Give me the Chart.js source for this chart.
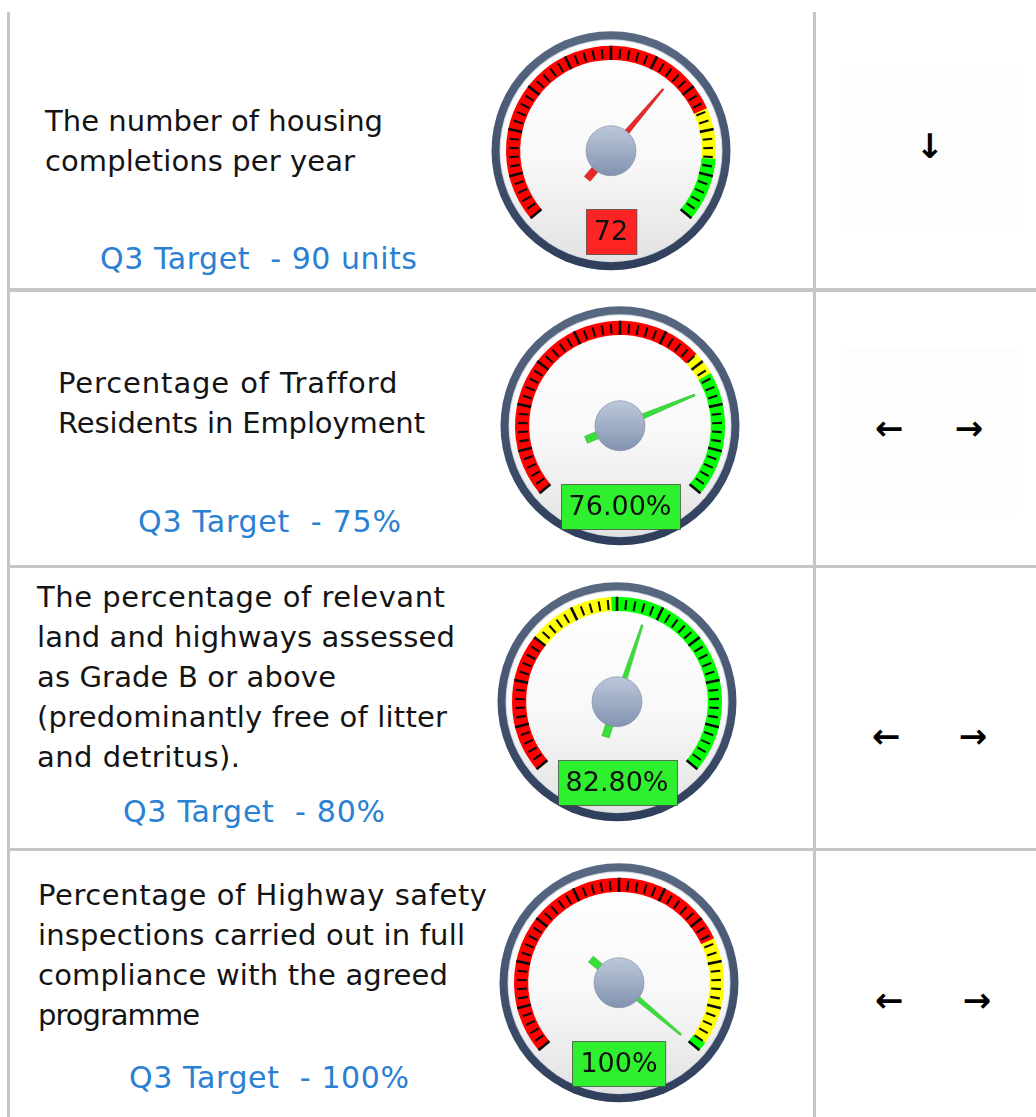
<!DOCTYPE html>
<html><head><meta charset="utf-8">
<script src="https://cdn.jsdelivr.net/npm/chart.js@4.4.0/dist/chart.umd.min.js"></script>
<style>
html,body{margin:0;padding:0;background:#fff;}
#page{position:relative;width:1036px;height:1117px;overflow:hidden;font-family:"DejaVu Sans",Verdana,sans-serif;}
.hl{position:absolute;background:#c6c6c6;}
.desc{position:absolute;font-size:29px;line-height:40px;color:#141414;white-space:pre;}
.desc span,.target span{display:inline-block;}
.target{position:absolute;font-size:30px;line-height:40px;color:#2a80d2;white-space:pre;}
.arrow{position:absolute;font-size:34px;line-height:34px;font-weight:bold;color:#000;transform:translate(-50%,-50%);}
.box{position:absolute;background:#fdfdfd;}
canvas{position:absolute;}
</style></head><body><div id="page"></div>
<script>
// ---------- data ----------
const descLines = [
  ['The number of housing','completions per year'],
  ['Percentage of Trafford','Residents in Employment'],
  ['The percentage of relevant','land and highways assessed','as Grade B or above','(predominantly free of litter','and detritus).'],
  ['Percentage of Highway safety','inspections carried out in full','compliance with the agreed','programme']
];
const targetTexts = ['Q3 Target  - 90 units','Q3 Target  - 75%','Q3 Target  - 80%','Q3 Target  - 100%'];
const gaugeValues = [72, 76, 82.8, 100];
const gaugeLabels = ['72', '76.00%', '82.80%', '100%'];
const scaleMin = [0, 0, 60, 0];
const scaleMax = [110, 100, 100, 100];
const redEnd = [83, 68, 72, 75];
const yellowEnd = [95, 73, 79.5, 98];
const statusColors = ['#ff2424', '#2ff02f', '#2ff02f', '#2ff02f'];
const needleColors = ['#e62a2a', '#3ade3a', '#3ade3a', '#3ade3a'];
const trendSymbols = [['↓'], ['←','→'], ['←','→'], ['←','→']];

// ---------- layout ----------
const page = document.getElementById('page');
function el(cls, css, txt){ const d=document.createElement('div'); d.className=cls; Object.assign(d.style, css); if(txt!==undefined) d.textContent=txt; page.appendChild(d); return d; }

// light boxes in trend cells
el('box',{left:'842px',top:'65px',width:'176px',height:'165px'});
el('box',{left:'842px',top:'348px',width:'176px',height:'165px'});

// grid lines
el('hl',{left:'7px',top:'12px',width:'3px',height:'1105px'});
el('hl',{left:'813px',top:'12px',width:'3px',height:'1105px'});
el('hl',{left:'7px',top:'288px',width:'1029px',height:'4px'});
el('hl',{left:'7px',top:'565px',width:'1029px',height:'3px'});
el('hl',{left:'7px',top:'848px',width:'1029px',height:'3px'});

// text placement (layout only): left, top, and the rendered width of each line in the original
const descPos = [[45,101],[58,363],[37,577],[38,875]];
const descLineWidths = [[338,310],[339,367],[408,418,299,410,203],[449,427,410,162]];
const targetPos = [[100,239],[138,502],[123,792],[129,1058]];
const targetWidths = [317,263,262,280];

function fitSpan(parent, text, w){
  const s = document.createElement('span'); s.textContent = text; parent.appendChild(s);
  const nat = s.getBoundingClientRect().width;
  const n = [...text].length;
  if (n > 1) s.style.letterSpacing = ((w - nat) / (n - 1)) + 'px';
  return s;
}
descLines.forEach((lines,i)=>{
  const d = el('desc',{left:descPos[i][0]+'px',top:descPos[i][1]+'px'});
  lines.forEach((ln,k)=>{ fitSpan(d, ln, descLineWidths[i][k]); if(k<lines.length-1) d.appendChild(document.createElement('br')); });
  const t = el('target',{left:targetPos[i][0]+'px',top:targetPos[i][1]+'px'});
  fitSpan(t, targetTexts[i], targetWidths[i]);
});

const arrowPos = [[[930,146]],[[889,428],[969,428]],[[886,736],[973,736]],[[889,1000],[977,1000]]];
trendSymbols.forEach((syms,i)=>{
  syms.forEach((s,j)=>{
    el('arrow',{left:arrowPos[i][j][0]+'px',top:arrowPos[i][j][1]+'px'}, s);
  });
});

// ---------- gauges ----------
const gaugeCenters = [[611,151],[620,426],[617,702],[619,983]];

const gaugePlugin = {
  id: 'gaugeDeco',
  beforeDatasetsDraw(chart) {
    const a = chart.getDatasetMeta(0).data[0];
    const x = a.x, y = a.y, ctx = chart.ctx;
    ctx.save();
    let g = ctx.createLinearGradient(0, y-120, 0, y+120);
    g.addColorStop(0, '#5a6982'); g.addColorStop(0.5,'#44546f'); g.addColorStop(1, '#2e3e5b');
    ctx.beginPath(); ctx.arc(x, y, 119.5, 0, Math.PI*2); ctx.fillStyle = g; ctx.fill();
    ctx.beginPath(); ctx.arc(x, y, 111.5, 0, Math.PI*2); ctx.fillStyle = '#cfd5df'; ctx.fill();
    g = ctx.createLinearGradient(0, y-111, 0, y+111);
    g.addColorStop(0, '#ffffff'); g.addColorStop(0.55, '#f8f8f8'); g.addColorStop(1, '#e2e2e2');
    ctx.beginPath(); ctx.arc(x, y, 110.5, 0, Math.PI*2); ctx.fillStyle = g; ctx.fill();
    ctx.restore();
  },
  afterDatasetsDraw(chart, args, opts) {
    const meta0 = chart.getDatasetMeta(0);
    const first = meta0.data[0], last = meta0.data[meta0.data.length-1];
    const x = first.x, y = first.y, ctx = chart.ctx;
    const a0 = first.startAngle, a1 = last.endAngle;
    const rin = first.innerRadius, rout = first.outerRadius;
    ctx.save();
    // ticks
    ctx.strokeStyle = '#0c0c0c';
    const N = 50;
    for (let i = 0; i <= N; i++) {
      const ang = a0 + (a1 - a0) * i / N;
      const major = i % 5 === 0;
      const r1 = major ? rin : rin + 1.5;
      const r2 = major ? rout : rout - 3;
      ctx.lineWidth = major ? 2.6 : 2.1;
      ctx.beginPath();
      ctx.moveTo(x + Math.cos(ang)*r1, y + Math.sin(ang)*r1);
      ctx.lineTo(x + Math.cos(ang)*r2, y + Math.sin(ang)*r2);
      ctx.stroke();
    }
    // needle
    const na = chart.getDatasetMeta(1).data[0].endAngle;
    ctx.save();
    ctx.translate(x, y); ctx.rotate(na);
    ctx.fillStyle = opts.needle;
    ctx.strokeStyle = 'rgba(0,0,0,0.12)';
    ctx.lineWidth = 0.8;
    ctx.beginPath();
    ctx.moveTo(-37, -4); ctx.lineTo(0, -4); ctx.lineTo(0, 4); ctx.lineTo(-37, 4); ctx.closePath();
    ctx.fill(); ctx.stroke();
    ctx.beginPath();
    ctx.moveTo(0, -3.4); ctx.lineTo(81, -1.1); ctx.lineTo(81, 1.1); ctx.lineTo(0, 3.4); ctx.closePath();
    ctx.fill(); ctx.stroke();
    ctx.restore();
    // hub
    let g = ctx.createLinearGradient(0, y-25, 0, y+25);
    g.addColorStop(0, '#bcc8db'); g.addColorStop(1, '#8393af');
    ctx.beginPath(); ctx.arc(x, y, 25, 0, Math.PI*2);
    ctx.fillStyle = g; ctx.fill();
    ctx.strokeStyle = 'rgba(120,135,160,0.6)'; ctx.lineWidth = 1; ctx.stroke();
    // value box
    ctx.font = '27px "DejaVu Sans"';
    const tw = ctx.measureText(opts.label).width;
    const bw = Math.max(tw + 16, 45), bh = 45;
    const bx = Math.round(x - bw/2) + 0.5, by = Math.round(y + 58) + 0.5;
    ctx.fillStyle = opts.color;
    ctx.fillRect(bx, by, bw, bh);
    ctx.strokeStyle = 'rgba(60,60,60,0.7)'; ctx.lineWidth = 1;
    ctx.strokeRect(bx, by, bw, bh);
    ctx.fillStyle = '#111';
    ctx.textAlign = 'center'; ctx.textBaseline = 'middle';
    ctx.fillText(opts.label, x, by + bh/2 + 1);
    ctx.restore();
  }
};

gaugeValues.forEach((v, i) => {
  const cv = document.createElement('canvas');
  cv.width = 300; cv.height = 300;
  cv.style.width = '300px'; cv.style.height = '300px';
  page.appendChild(cv);
  const chart = new Chart(cv, {
    type: 'doughnut',
    data: {
      labels: ['low', 'mid', 'high'],
      datasets: [
        { data: [redEnd[i]-scaleMin[i], yellowEnd[i]-redEnd[i], scaleMax[i]-yellowEnd[i]],
          backgroundColor: ['#ff0000', '#ffff00', '#00ff00'], borderWidth: 0 },
        { data: [v - scaleMin[i], scaleMax[i] - v], weight: 0,
          backgroundColor: ['rgba(0,0,0,0)', 'rgba(0,0,0,0)'], borderWidth: 0 }
      ]
    },
    options: {
      responsive: false, animation: false, events: [],
      rotation: -130, circumference: 260,
      radius: 105, cutout: '86.5%',
      plugins: { legend: { display: false }, tooltip: { enabled: false },
        gaugeDeco: { color: statusColors[i], needle: needleColors[i], label: gaugeLabels[i] } }
    },
    plugins: [gaugePlugin]
  });
  const a = chart.getDatasetMeta(0).data[0];
  cv.style.left = (gaugeCenters[i][0] - a.x) + 'px';
  cv.style.top = (gaugeCenters[i][1] - a.y) + 'px';
});
</script>
</body></html>
